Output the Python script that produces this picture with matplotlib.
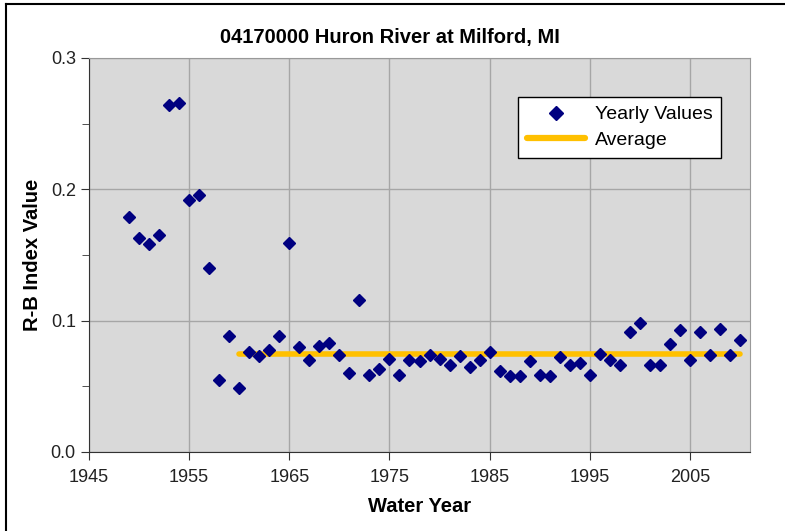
import matplotlib
matplotlib.use("Agg")
import matplotlib.pyplot as plt
from matplotlib.lines import Line2D
from matplotlib.ticker import MultipleLocator

plt.rcParams["font.family"] = ["Liberation Sans", "DejaVu Sans"]

# yearly R-B index values
years = list(range(1949, 2011))
rb_index = [
    0.179, 0.163, 0.158, 0.165, 0.264, 0.266, 0.192, 0.196, 0.140, 0.055,
    0.088, 0.049, 0.076, 0.073, 0.078, 0.088, 0.159, 0.080, 0.070, 0.081,
    0.083, 0.074, 0.060, 0.116, 0.059, 0.063, 0.071, 0.059, 0.070, 0.069,
    0.074, 0.071, 0.066, 0.073, 0.065, 0.070, 0.076, 0.062, 0.058, 0.058,
    0.069, 0.059, 0.058, 0.072, 0.066, 0.068, 0.059, 0.075, 0.070, 0.066,
    0.091, 0.098, 0.066, 0.066, 0.082, 0.093, 0.070, 0.091, 0.074, 0.094,
    0.074, 0.085,
]
avg_years = [1960, 2010]
avg_value = [0.0746, 0.0746]

fig = plt.figure(figsize=(7.85, 5.31), dpi=100)
ax = fig.add_axes([89 / 785, 79 / 531, 661 / 785, 394 / 531])
ax.set_facecolor("#d9d9d9")

ax.plot(avg_years, avg_value, color="#ffc000", lw=4, solid_capstyle="round",
        zorder=2, label="Average")
ax.plot(years, rb_index, "D", color="#000080", ms=6.5, mec="#000080",
        zorder=3, label="Yearly Values")

ax.set_xlim(1945, 2011)
ax.set_ylim(0, 0.3)
ax.set_xticks(range(1945, 2011, 10))
ax.set_yticks([0.0, 0.1, 0.2, 0.3])
ax.set_yticklabels(["0.0", "0.1", "0.2", "0.3"])
ax.yaxis.set_minor_locator(MultipleLocator(0.05))
ax.tick_params(axis="both", which="both", direction="out", color="#333333",
               labelsize=13, labelcolor="#222222")
ax.tick_params(axis="both", which="major", length=6)
ax.tick_params(axis="y", which="minor", length=5)
ax.tick_params(axis="x", pad=6)
ax.grid(True, which="major", color="#a6a6a6", lw=1)
ax.set_axisbelow(True)
for s in ("top", "right"):
    ax.spines[s].set_color("#999999")
for s in ("left", "bottom"):
    ax.spines[s].set_color("#333333")

ax.set_xlabel("Water Year", fontsize=14.5, fontweight="bold", labelpad=8)
ax.set_ylabel("R-B Index Value", fontsize=14.5, fontweight="bold", labelpad=6)
fig.text(390 / 785, 1 - 37 / 531, "04170000 Huron River at Milford, MI",
         ha="center", va="center", fontsize=14.5, fontweight="bold")

handles = [
    Line2D([], [], ls="none", marker="D", color="#000080", ms=7.5),
    Line2D([], [], color="#ffc000", lw=4.5, solid_capstyle="round"),
]
leg = ax.legend(handles, ["Yearly Values", "Average"], loc="upper left",
                bbox_to_anchor=((518 - 89) / 661, (452 - 97) / 394),
                fontsize=14, frameon=True, fancybox=False, framealpha=1,
                edgecolor="black", handlelength=3.0, handletextpad=0.5,
                borderpad=0.45, labelspacing=0.4, borderaxespad=0)
leg.get_frame().set_linewidth(1)

# outer chart frame (left and top edges)
fig.add_artist(Line2D([6 / 785, 6 / 785], [0, 1 - 4 / 531], color="black", lw=1.5))
fig.add_artist(Line2D([6 / 785, 1], [1 - 4 / 531, 1 - 4 / 531], color="black", lw=1.5))

fig.savefig("out.png", dpi=100)
